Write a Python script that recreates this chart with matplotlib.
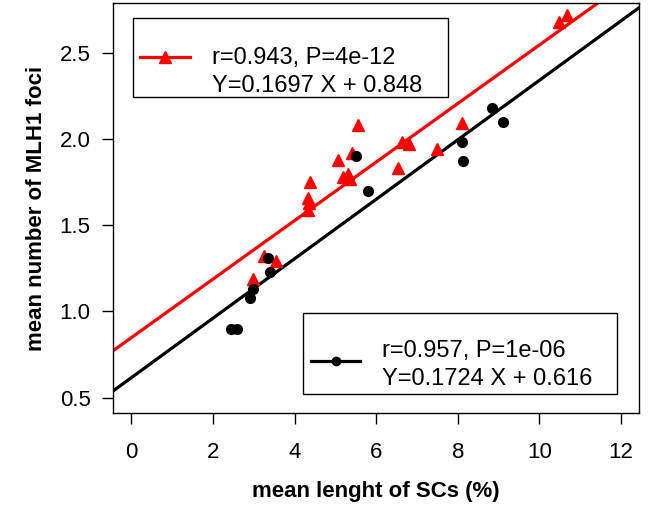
import numpy as np
import matplotlib.pyplot as plt
from matplotlib.lines import Line2D
from matplotlib.patches import Rectangle

plt.rcParams['font.family'] = ['Liberation Sans', 'DejaVu Sans']

# red series (triangles)
red_x = [5.55, 5.41, 5.07, 5.2, 5.3, 5.35, 4.39, 4.34, 4.36, 4.33,
         6.54, 6.63, 6.8, 3.24, 3.54, 2.98, 8.1, 7.49, 10.49, 10.68]
red_y = [2.08, 1.92, 1.88, 1.78, 1.80, 1.77, 1.75, 1.66, 1.63, 1.59,
         1.83, 1.98, 1.97, 1.32, 1.29, 1.19, 2.09, 1.94, 2.68, 2.72]
red_fit = (0.1697, 0.848)
red_text = ['r=0.943, P=4e-12', 'Y=0.1697 X + 0.848']

# black series (circles)
blk_x = [2.45, 2.58, 2.9, 2.98, 3.41, 3.34, 5.51, 5.80, 8.1, 8.12, 8.83, 9.12]
blk_y = [0.90, 0.90, 1.08, 1.13, 1.23, 1.31, 1.90, 1.70, 1.98, 1.87, 2.18, 2.10]
blk_fit = (0.1724, 0.616)
blk_text = ['r=0.957, P=1e-06', 'Y=0.1724 X + 0.616']

fig = plt.figure(figsize=(6.53, 5.2), dpi=100)
ax = fig.add_axes([0.173, 0.206, 0.806, 0.788])

xs = np.array([-1, 13])
ax.plot(xs, red_fit[0] * xs + red_fit[1], color='red', lw=2.3)
ax.plot(xs, blk_fit[0] * xs + blk_fit[1], color='black', lw=2.3)
ax.plot(red_x, red_y, '^', color='red', ms=9, ls='none')
ax.plot(blk_x, blk_y, 'o', color='black', ms=7, ls='none')

ax.set_xlim(-0.45, 12.45)
ax.set_ylim(0.412, 2.788)
ax.set_xticks(range(0, 13, 2))
ax.set_yticks([0.5, 1.0, 1.5, 2.0, 2.5])
ax.set_yticklabels(['0.5', '1.0', '1.5', '2.0', '2.5'])
ax.tick_params(axis='x', length=8, width=1, labelsize=16, pad=13)
ax.tick_params(axis='y', length=8, width=1, labelsize=16, pad=8)
for s in ax.spines.values():
    s.set_linewidth(1)

ax.set_xlabel('mean lenght of SCs (%)', fontsize=16, fontweight='bold', labelpad=13)
ax.set_ylabel('mean number of MLH1 foci', fontsize=16, fontweight='bold', labelpad=9)


# R-style legend boxes drawn by hand (axes fraction coordinates)
def legend_box(box, handle, text_x, baselines, lines, color, marker, ms):
    x0, y0, x1, y1 = box
    ax.add_patch(Rectangle((x0, y0), x1 - x0, y1 - y0, transform=ax.transAxes,
                           facecolor='white', edgecolor='black', lw=1, zorder=5))
    hx0, hx1, hy = handle
    ax.add_line(Line2D([hx0, hx1], [hy, hy], transform=ax.transAxes,
                       color=color, lw=2.3, zorder=6))
    ax.add_line(Line2D([(hx0 + hx1) / 2], [hy], transform=ax.transAxes,
                       color=color, marker=marker, ms=ms, zorder=6))
    for yb, t in zip(baselines, lines):
        ax.text(text_x, yb, t, transform=ax.transAxes, fontsize=17,
                va='baseline', ha='left', zorder=6)


legend_box((0.038, 0.771, 0.637, 0.963), (0.051, 0.146, 0.868), 0.188,
           (0.851, 0.783), red_text, 'red', '^', 9)
legend_box((0.361, 0.046, 0.958, 0.244), (0.376, 0.470, 0.127), 0.511,
           (0.137, 0.068), blk_text, 'black', 'o', 6)

fig.savefig('out.png', dpi=100)
